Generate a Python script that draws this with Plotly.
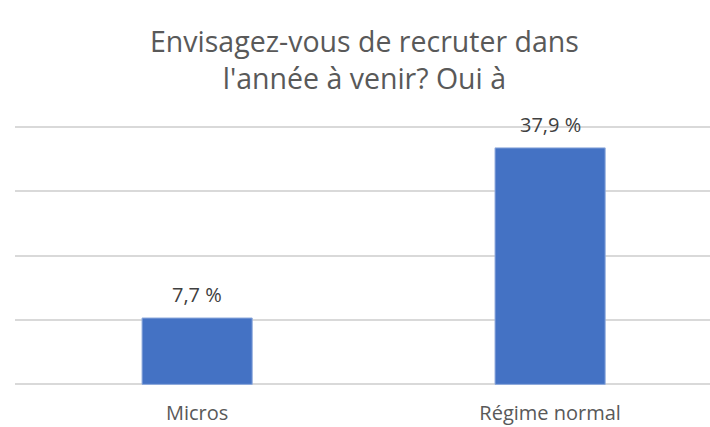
import plotly.graph_objects as go

categories = ["Micros", "Régime normal"]
bar_heights = [10.3, 36.7]
value_labels = ["7,7 %", "37,9 %"]
y_ticks = [0, 10, 20, 30, 40]
title_text = "Envisagez-vous de recruter dans<br>l'année à venir? Oui à"

fig = go.Figure()
fig.add_trace(go.Bar(
    x=categories,
    y=bar_heights,
    marker=dict(color="#4472C4", line=dict(color="#8FAADC", width=1)),
    width=0.312,
    hoverinfo="skip",
))

for cat, h, lab in zip(categories, bar_heights, value_labels):
    fig.add_annotation(
        x=cat, y=h, text=lab, xref="x", yref="y",
        xanchor="center", yanchor="bottom", yshift=8,
        showarrow=False,
        font=dict(family="Open Sans", size=20, color="#404040"),
    )

fig.add_annotation(
    text=title_text, xref="paper", yref="paper",
    x=0.503, y=1.252, xanchor="center", yanchor="middle",
    showarrow=False, align="center",
    font=dict(family="Open Sans", size=28.5, color="#595959"),
)

fig.update_layout(
    width=710, height=427,
    margin=dict(l=15, r=0, t=125, b=41, autoexpand=False),
    paper_bgcolor="white", plot_bgcolor="white",
    showlegend=False,
    xaxis=dict(
        range=[-0.516, 1.453], automargin=False,
        showgrid=False, showline=False, zeroline=False,
        ticks="", ticklabelstandoff=13,
        tickfont=dict(family="Open Sans", size=20, color="#595959"),
    ),
    yaxis=dict(
        range=[-0.25, 40.25], tickvals=y_ticks, showticklabels=False,
        automargin=False,
        showgrid=True, gridcolor="#D9D9D9", gridwidth=1.5,
        zeroline=False, showline=False, ticks="",
    ),
)
fig.write_html("out.html", config={"displayModeBar": False},
               post_script="document.body.style.margin='0';")
